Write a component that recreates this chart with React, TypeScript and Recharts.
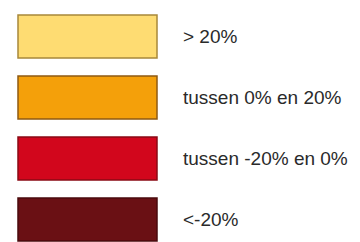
import { BarChart, Bar, XAxis, YAxis, Cell, LabelList } from "recharts"

const labels = ["> 20%", "tussen 0% en 20%", "tussen -20% en 0%", "<-20%"]
const swatch = [1, 1, 1, 1]
const fills = ["#fedc72", "#f4a00a", "#d2061c", "#6a1014"]
const borders = ["#a8883a", "#8e5a12", "#8a0a14", "#4a0a0c"]

const data = labels.map((l, i) => ({ label: l, v: swatch[i] }))

export default function App() {
  return (
    <div style={{ position: "absolute", left: 0, top: 0, width: 360, height: 242, overflow: "hidden", background: "#fff" }}>
      <BarChart width={360} height={250} data={data} layout="vertical" margin={{ top: 6, right: 203, bottom: 0, left: 18 }}>
        <XAxis type="number" domain={[0, 1]} hide />
        <YAxis type="category" dataKey="label" hide />
        <Bar dataKey="v" barSize={43} isAnimationActive={false}>
          {data.map((d, i) => (
            <Cell key={d.label} fill={fills[i]} stroke={borders[i]} strokeWidth={1.5} />
          ))}
          <LabelList dataKey="label" position="right" offset={26}
            style={{ fontFamily: "Liberation Sans, Arial, sans-serif", fontSize: 19, fill: "#2a2a2a" }} />
        </Bar>
      </BarChart>
    </div>
  )
}
